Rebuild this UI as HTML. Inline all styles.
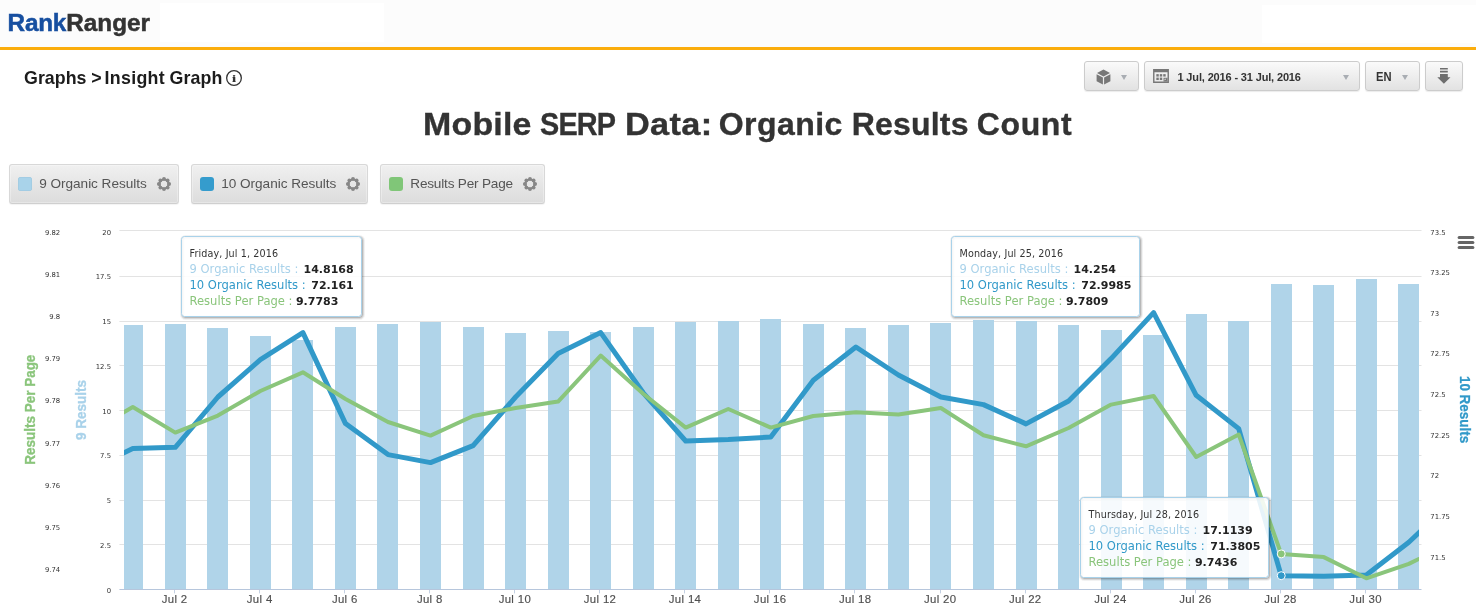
<!DOCTYPE html>
<html lang="en">
<head>
<meta charset="utf-8">
<title>Rank Ranger - Insight Graph</title>
<style>
html,body{margin:0;padding:0;}
body{width:1476px;height:611px;overflow:hidden;background:#fff;position:relative;font-family:"Liberation Sans",sans-serif;color:#333;}
.hdr{position:absolute;left:0;top:0;width:1476px;height:47px;background:#fcfcfc;border-bottom:3px solid #fbad0c;}
.hdr .w1{position:absolute;left:160px;top:3px;width:224px;height:39px;background:#fff;}
.hdr .w2{position:absolute;left:1262px;top:5px;width:214px;height:38px;background:#fff;}
.logo{position:absolute;left:7.6px;top:9.3px;font-size:24.3px;-webkit-text-stroke:.5px currentColor;line-height:28px;font-weight:bold;color:#333;letter-spacing:0;white-space:nowrap;}
.logo b{color:#174fa0;letter-spacing:-.25px;margin-right:.3px;}
.crumb{position:absolute;left:24px;top:66.6px;font-size:17.8px;letter-spacing:.05px;line-height:22px;font-weight:bold;color:#1c1c1c;white-space:nowrap;}
.info{position:absolute;left:224.9px;top:68.9px;}
.tb{position:absolute;top:61px;height:28px;border:1px solid #ccc;border-radius:3px;background:linear-gradient(#fafafa,#e2e2e2);box-shadow:0 1px 1px rgba(0,0,0,.08);font-weight:bold;font-size:11px;color:#333;white-space:nowrap;}
.tb span{position:absolute;top:7.8px;line-height:15px;}
.tb svg{position:absolute;}
.caret{position:absolute;top:12.6px;width:0;height:0;border-left:3.6px solid transparent;border-right:3.6px solid transparent;border-top:5.6px solid #a9adb3;}
h1{position:absolute;left:0;top:104px;width:1476px;height:40px;margin:0;font-size:32px;line-height:40px;font-weight:bold;color:#333;white-space:nowrap;}
h1 span{position:absolute;top:0;transform-origin:0 50%;-webkit-text-stroke:.35px #333;}
.lg{position:absolute;top:164px;height:38px;border:1px solid #d8d8d8;border-bottom-color:#cfcfcf;border-radius:3px;background:linear-gradient(#f0f0f0,#dcdcdc);box-shadow:0 1px 1px rgba(0,0,0,.05),inset 0 0 0 1px rgba(255,255,255,.3);font-size:13.6px;letter-spacing:-.04px;color:#555;white-space:nowrap;}
.lg i{position:absolute;left:8.1px;top:12.2px;width:13.6px;height:13.6px;border-radius:3px;}
.lg span{position:absolute;left:29.3px;top:9.7px;line-height:18px;}
.lg .gear{position:absolute;right:6px;top:10.9px;}
.chart{position:absolute;left:0;top:210px;}
</style>
</head>
<body>
<div class="hdr"><div class="w1"></div><div class="w2"></div><div class="logo"><b>Rank</b>Ranger</div></div>
<div class="crumb">Graphs <span style="margin-left:-.4px;letter-spacing:-.4px">&gt;</span> <span style="margin-left:-1.55px;letter-spacing:.3px">Insight</span> <span style="margin-left:-.4px;letter-spacing:.12px">Graph</span></div>
<svg class="info" width="18" height="18" viewBox="0 0 18 18"><circle cx="9" cy="9" r="7.35" fill="none" stroke="#333" stroke-width="1.3"/><text transform="translate(9.1 13) scale(1.3 1)" text-anchor="middle" font-family="Liberation Serif, serif" font-weight="bold" font-size="11.2" fill="#333" stroke="#333" stroke-width=".2">i</text></svg>

<div class="tb" style="left:1084px;width:53px;">
  <svg style="left:11px;top:7px" width="15" height="16" viewBox="0 0 15 16"><path d="M7.5 0.5 L14 4 L7.5 7.5 L1 4 Z M0.6 5.2 L6.9 8.6 V15.6 L0.6 12.2 Z M14.4 5.2 V12.2 L8.1 15.6 V8.6 Z" fill="#777"/></svg>
  <div class="caret" style="left:36px"></div>
</div>
<div class="tb" style="left:1144px;width:213.5px;">
  <svg style="left:8px;top:7px" width="16" height="14" viewBox="0 0 17 15"><path d="M0 0 H17 V15 H0 Z M1.5 3.5 V13.5 H15.5 V3.5 Z" fill="#777" fill-rule="evenodd"/><g fill="#777"><rect x="3.5" y="5.5" width="2.6" height="2.6"/><rect x="7.2" y="5.5" width="2.6" height="2.6"/><rect x="10.9" y="5.5" width="2.6" height="2.6"/><rect x="3.5" y="9.2" width="2.6" height="2.6"/><rect x="7.2" y="9.2" width="2.6" height="2.6"/><path d="M11.2 9.4H15.5V13.5H11.2Z"/><path d="M12.3 12.4V10.5H14.3Z" fill="#e8e8e8"/></g></svg>
  <span style="left:32.5px;letter-spacing:-.15px">1 Jul, 2016 - 31 Jul, 2016</span>
  <div class="caret" style="left:198px"></div>
</div>
<div class="tb" style="left:1365px;width:53px;">
  <span style="left:10px;top:7.1px;font-size:13px;transform:scaleX(.86);transform-origin:0 50%">EN</span>
  <div class="caret" style="left:36px"></div>
</div>
<div class="tb" style="left:1425px;width:36px;">
  <svg style="left:11px;top:6px" width="14" height="17" viewBox="0 0 14 17"><path d="M3 0.1 H10.8 V1.6 H3 Z M3 2.8 H10.8 V4.6 H3 Z M3 5.9 H10.8 V9.3 H13.5 L6.9 15.8 L0.3 9.3 H3 Z" fill="#6e6e6e"/></svg>
</div>

<h1><span style="left:423.0px;letter-spacing:0.2px;transform:scaleX(1.06)">Mobile</span> <span style="left:540.2px;letter-spacing:-0.9px;transform:scaleX(0.9)">SERP</span> <span style="left:625px;letter-spacing:0.3px;transform:scaleX(1.072)">Data:</span> <span style="left:718.8px;letter-spacing:0.42px;transform:scaleX(1.0)">Organic</span> <span style="left:851.8px;letter-spacing:0.18px;transform:scaleX(1.0)">Results</span> <span style="left:976.8px;letter-spacing:0.6px;transform:scaleX(1.0)">Count</span></h1>

<div class="lg" style="left:9px;width:168px;"><i style="background:#a9d3ea;box-shadow:0 0 0 .5px #9cc6dd inset"></i><span>9 Organic Results</span><svg class="gear" width="16" height="16" viewBox="0 0 16 16"><g fill="#878787"><path fill-rule="evenodd" d="M8 2.6a5.4 5.4 0 1 0 0 10.8a5.4 5.4 0 1 0 0-10.8zM8 4.6a3.4 3.4 0 1 1 0 6.8a3.4 3.4 0 1 1 0-6.8z"/><circle cx="8.00" cy="2.90" r="1.95"/><circle cx="11.61" cy="4.39" r="1.95"/><circle cx="13.10" cy="8.00" r="1.95"/><circle cx="11.61" cy="11.61" r="1.95"/><circle cx="8.00" cy="13.10" r="1.95"/><circle cx="4.39" cy="11.61" r="1.95"/><circle cx="2.90" cy="8.00" r="1.95"/><circle cx="4.39" cy="4.39" r="1.95"/></g></svg></div>
<div class="lg" style="left:191px;width:175px;"><i style="background:#359ccd"></i><span>10 Organic Results</span><svg class="gear" width="16" height="16" viewBox="0 0 16 16"><g fill="#878787"><path fill-rule="evenodd" d="M8 2.6a5.4 5.4 0 1 0 0 10.8a5.4 5.4 0 1 0 0-10.8zM8 4.6a3.4 3.4 0 1 1 0 6.8a3.4 3.4 0 1 1 0-6.8z"/><circle cx="8.00" cy="2.90" r="1.95"/><circle cx="11.61" cy="4.39" r="1.95"/><circle cx="13.10" cy="8.00" r="1.95"/><circle cx="11.61" cy="11.61" r="1.95"/><circle cx="8.00" cy="13.10" r="1.95"/><circle cx="4.39" cy="11.61" r="1.95"/><circle cx="2.90" cy="8.00" r="1.95"/><circle cx="4.39" cy="4.39" r="1.95"/></g></svg></div>
<div class="lg" style="left:380px;width:163px;"><i style="background:#80c678"></i><span style="letter-spacing:-.2px">Results Per Page</span><svg class="gear" width="16" height="16" viewBox="0 0 16 16"><g fill="#878787"><path fill-rule="evenodd" d="M8 2.6a5.4 5.4 0 1 0 0 10.8a5.4 5.4 0 1 0 0-10.8zM8 4.6a3.4 3.4 0 1 1 0 6.8a3.4 3.4 0 1 1 0-6.8z"/><circle cx="8.00" cy="2.90" r="1.95"/><circle cx="11.61" cy="4.39" r="1.95"/><circle cx="13.10" cy="8.00" r="1.95"/><circle cx="11.61" cy="11.61" r="1.95"/><circle cx="8.00" cy="13.10" r="1.95"/><circle cx="4.39" cy="11.61" r="1.95"/><circle cx="2.90" cy="8.00" r="1.95"/><circle cx="4.39" cy="4.39" r="1.95"/></g></svg></div>

<svg class="chart" width="1476" height="401" viewBox="0 210 1476 401">
<defs><clipPath id="cp"><rect x="124" y="225" width="1295" height="364"/></clipPath></defs>
<path d="M119.4 230.5 H1421.5" stroke="#e3e3e3" stroke-width="1" fill="none"/>
<path d="M119.4 276.5 H1421.5" stroke="#e3e3e3" stroke-width="1" fill="none"/>
<path d="M119.4 321.5 H1421.5" stroke="#e3e3e3" stroke-width="1" fill="none"/>
<path d="M119.4 365.5 H1421.5" stroke="#e3e3e3" stroke-width="1" fill="none"/>
<path d="M119.4 410.5 H1421.5" stroke="#e3e3e3" stroke-width="1" fill="none"/>
<path d="M119.4 455.5 H1421.5" stroke="#e3e3e3" stroke-width="1" fill="none"/>
<path d="M119.4 500.5 H1421.5" stroke="#e3e3e3" stroke-width="1" fill="none"/>
<path d="M119.4 544.5 H1421.5" stroke="#e3e3e3" stroke-width="1" fill="none"/>
<g clip-path="url(#cp)">
<rect x="122" y="325" width="21" height="264" fill="#b0d4e9"/>
<rect x="165" y="324" width="21" height="265" fill="#b0d4e9"/>
<rect x="207" y="328" width="21" height="261" fill="#b0d4e9"/>
<rect x="250" y="336" width="21" height="253" fill="#b0d4e9"/>
<rect x="292" y="340" width="21" height="249" fill="#b0d4e9"/>
<rect x="335" y="327" width="21" height="262" fill="#b0d4e9"/>
<rect x="377" y="324" width="21" height="265" fill="#b0d4e9"/>
<rect x="420" y="322" width="21" height="267" fill="#b0d4e9"/>
<rect x="463" y="327" width="21" height="262" fill="#b0d4e9"/>
<rect x="505" y="333" width="21" height="256" fill="#b0d4e9"/>
<rect x="548" y="331" width="21" height="258" fill="#b0d4e9"/>
<rect x="590" y="332" width="21" height="257" fill="#b0d4e9"/>
<rect x="633" y="327" width="21" height="262" fill="#b0d4e9"/>
<rect x="675" y="322" width="21" height="267" fill="#b0d4e9"/>
<rect x="718" y="321" width="21" height="268" fill="#b0d4e9"/>
<rect x="760" y="319" width="21" height="270" fill="#b0d4e9"/>
<rect x="803" y="324" width="21" height="265" fill="#b0d4e9"/>
<rect x="845" y="328" width="21" height="261" fill="#b0d4e9"/>
<rect x="888" y="325" width="21" height="264" fill="#b0d4e9"/>
<rect x="930" y="323" width="21" height="266" fill="#b0d4e9"/>
<rect x="973" y="320" width="21" height="269" fill="#b0d4e9"/>
<rect x="1016" y="321" width="21" height="268" fill="#b0d4e9"/>
<rect x="1058" y="325" width="21" height="264" fill="#b0d4e9"/>
<rect x="1101" y="330" width="21" height="259" fill="#b0d4e9"/>
<rect x="1143" y="335" width="21" height="254" fill="#b0d4e9"/>
<rect x="1186" y="314" width="21" height="275" fill="#b0d4e9"/>
<rect x="1228" y="321" width="21" height="268" fill="#b0d4e9"/>
<rect x="1271" y="284" width="21" height="305" fill="#b0d4e9"/>
<rect x="1313" y="285" width="21" height="304" fill="#b0d4e9"/>
<rect x="1356" y="279" width="21" height="310" fill="#b0d4e9"/>
<rect x="1398" y="284" width="21" height="305" fill="#b0d4e9"/>
</g>
<path d="M119.4 589.5 H1421.5" stroke="#b6c6dc" stroke-width="1" fill="none"/>
<path d="M174.5 590 V593.4" stroke="#c3d0e2" stroke-width="1" fill="none"/>
<path d="M259.5 590 V593.4" stroke="#c3d0e2" stroke-width="1" fill="none"/>
<path d="M344.5 590 V593.4" stroke="#c3d0e2" stroke-width="1" fill="none"/>
<path d="M429.5 590 V593.4" stroke="#c3d0e2" stroke-width="1" fill="none"/>
<path d="M514.5 590 V593.4" stroke="#c3d0e2" stroke-width="1" fill="none"/>
<path d="M599.5 590 V593.4" stroke="#c3d0e2" stroke-width="1" fill="none"/>
<path d="M684.5 590 V593.4" stroke="#c3d0e2" stroke-width="1" fill="none"/>
<path d="M769.5 590 V593.4" stroke="#c3d0e2" stroke-width="1" fill="none"/>
<path d="M854.5 590 V593.4" stroke="#c3d0e2" stroke-width="1" fill="none"/>
<path d="M940.5 590 V593.4" stroke="#c3d0e2" stroke-width="1" fill="none"/>
<path d="M1025.5 590 V593.4" stroke="#c3d0e2" stroke-width="1" fill="none"/>
<path d="M1110.5 590 V593.4" stroke="#c3d0e2" stroke-width="1" fill="none"/>
<path d="M1195.5 590 V593.4" stroke="#c3d0e2" stroke-width="1" fill="none"/>
<path d="M1280.5 590 V593.4" stroke="#c3d0e2" stroke-width="1" fill="none"/>
<path d="M1365.5 590 V593.4" stroke="#c3d0e2" stroke-width="1" fill="none"/>
<g clip-path="url(#cp)" fill="none" stroke-linejoin="round" stroke-linecap="round">
<path d="M90.2 469.0 L132.8 448.6 L175.3 447.3 L217.9 397.0 L260.4 359.6 L302.9 332.6 L345.5 423.6 L388.0 454.6 L430.5 462.6 L473.1 445.6 L515.6 397.0 L558.1 353.6 L600.7 332.6 L643.2 392.8 L685.7 441.0 L728.3 439.6 L770.8 437.0 L813.3 380.3 L855.9 347.0 L898.4 375.0 L940.9 397.0 L983.5 404.6 L1026.0 423.9 L1068.6 401.0 L1111.1 358.6 L1153.6 312.6 L1196.2 395.3 L1238.7 428.6 L1281.2 575.7 L1323.8 576.3 L1366.3 575.1 L1408.8 542.3 L1451.4 502.0" stroke="#3199c9" stroke-width="5"/>
<path d="M90.2 432.0 L132.8 407.0 L175.3 432.6 L217.9 415.6 L260.4 391.0 L302.9 372.3 L345.5 399.0 L388.0 422.0 L430.5 435.6 L473.1 416.0 L515.6 408.0 L558.1 401.6 L600.7 355.6 L643.2 393.8 L685.7 427.6 L728.3 409.0 L770.8 427.6 L813.3 416.0 L855.9 412.3 L898.4 414.6 L940.9 408.0 L983.5 435.3 L1026.0 446.3 L1068.6 428.0 L1111.1 404.6 L1153.6 396.0 L1196.2 457.0 L1238.7 434.5 L1281.2 553.9 L1323.8 557.1 L1366.3 578.3 L1408.8 563.9 L1451.4 543.0" stroke="#8ac57b" stroke-width="4"/>
</g>
<circle cx="1281.23" cy="575.6999999999999" r="4" fill="#3199c9" stroke="#fff" stroke-width="1"/>
<circle cx="1281.23" cy="553.9" r="4" fill="#8ac57b" stroke="#fff" stroke-width="1"/>
<text x="60.2" y="235.0" text-anchor="end" font-family="DejaVu Sans, Liberation Sans, sans-serif" font-size="6.85" fill="#333">9.82</text>
<text x="60.2" y="277.0" text-anchor="end" font-family="DejaVu Sans, Liberation Sans, sans-serif" font-size="6.85" fill="#333">9.81</text>
<text x="60.2" y="319.0" text-anchor="end" font-family="DejaVu Sans, Liberation Sans, sans-serif" font-size="6.85" fill="#333">9.8</text>
<text x="60.2" y="360.9" text-anchor="end" font-family="DejaVu Sans, Liberation Sans, sans-serif" font-size="6.85" fill="#333">9.79</text>
<text x="60.2" y="403.2" text-anchor="end" font-family="DejaVu Sans, Liberation Sans, sans-serif" font-size="6.85" fill="#333">9.78</text>
<text x="60.2" y="446.1" text-anchor="end" font-family="DejaVu Sans, Liberation Sans, sans-serif" font-size="6.85" fill="#333">9.77</text>
<text x="60.2" y="488.2" text-anchor="end" font-family="DejaVu Sans, Liberation Sans, sans-serif" font-size="6.85" fill="#333">9.76</text>
<text x="60.2" y="529.8" text-anchor="end" font-family="DejaVu Sans, Liberation Sans, sans-serif" font-size="6.85" fill="#333">9.75</text>
<text x="60.2" y="571.8" text-anchor="end" font-family="DejaVu Sans, Liberation Sans, sans-serif" font-size="6.85" fill="#333">9.74</text>
<text x="111" y="235.1" text-anchor="end" font-family="DejaVu Sans, Liberation Sans, sans-serif" font-size="6.85" fill="#333">20</text>
<text x="111" y="279.2" text-anchor="end" font-family="DejaVu Sans, Liberation Sans, sans-serif" font-size="6.85" fill="#333">17.5</text>
<text x="111" y="323.9" text-anchor="end" font-family="DejaVu Sans, Liberation Sans, sans-serif" font-size="6.85" fill="#333">15</text>
<text x="111" y="368.8" text-anchor="end" font-family="DejaVu Sans, Liberation Sans, sans-serif" font-size="6.85" fill="#333">12.5</text>
<text x="111" y="413.7" text-anchor="end" font-family="DejaVu Sans, Liberation Sans, sans-serif" font-size="6.85" fill="#333">10</text>
<text x="111" y="457.9" text-anchor="end" font-family="DejaVu Sans, Liberation Sans, sans-serif" font-size="6.85" fill="#333">7.5</text>
<text x="111" y="502.8" text-anchor="end" font-family="DejaVu Sans, Liberation Sans, sans-serif" font-size="6.85" fill="#333">5</text>
<text x="111" y="547.8" text-anchor="end" font-family="DejaVu Sans, Liberation Sans, sans-serif" font-size="6.85" fill="#333">2.5</text>
<text x="111" y="592.7" text-anchor="end" font-family="DejaVu Sans, Liberation Sans, sans-serif" font-size="6.85" fill="#333">0</text>
<text x="1430.3" y="234.9" text-anchor="start" font-family="DejaVu Sans, Liberation Sans, sans-serif" font-size="6.85" fill="#333">73.5</text>
<text x="1430.3" y="275.0" text-anchor="start" font-family="DejaVu Sans, Liberation Sans, sans-serif" font-size="6.85" fill="#333">73.25</text>
<text x="1430.3" y="315.8" text-anchor="start" font-family="DejaVu Sans, Liberation Sans, sans-serif" font-size="6.85" fill="#333">73</text>
<text x="1430.3" y="356.2" text-anchor="start" font-family="DejaVu Sans, Liberation Sans, sans-serif" font-size="6.85" fill="#333">72.75</text>
<text x="1430.3" y="396.8" text-anchor="start" font-family="DejaVu Sans, Liberation Sans, sans-serif" font-size="6.85" fill="#333">72.5</text>
<text x="1430.3" y="437.8" text-anchor="start" font-family="DejaVu Sans, Liberation Sans, sans-serif" font-size="6.85" fill="#333">72.25</text>
<text x="1430.3" y="477.8" text-anchor="start" font-family="DejaVu Sans, Liberation Sans, sans-serif" font-size="6.85" fill="#333">72</text>
<text x="1430.3" y="519.2" text-anchor="start" font-family="DejaVu Sans, Liberation Sans, sans-serif" font-size="6.85" fill="#333">71.75</text>
<text x="1430.3" y="560.3" text-anchor="start" font-family="DejaVu Sans, Liberation Sans, sans-serif" font-size="6.85" fill="#333">71.5</text>
<text x="174.6" y="603.2" text-anchor="middle" font-family="Liberation Sans, sans-serif" font-size="11.4" letter-spacing=".35" fill="#505050" stroke="#505050" stroke-width=".15">Jul 2</text>
<text x="259.7" y="603.2" text-anchor="middle" font-family="Liberation Sans, sans-serif" font-size="11.4" letter-spacing=".35" fill="#505050" stroke="#505050" stroke-width=".15">Jul 4</text>
<text x="344.8" y="603.2" text-anchor="middle" font-family="Liberation Sans, sans-serif" font-size="11.4" letter-spacing=".35" fill="#505050" stroke="#505050" stroke-width=".15">Jul 6</text>
<text x="429.8" y="603.2" text-anchor="middle" font-family="Liberation Sans, sans-serif" font-size="11.4" letter-spacing=".35" fill="#505050" stroke="#505050" stroke-width=".15">Jul 8</text>
<text x="514.9" y="603.2" text-anchor="middle" font-family="Liberation Sans, sans-serif" font-size="11.4" letter-spacing=".35" fill="#505050" stroke="#505050" stroke-width=".15">Jul 10</text>
<text x="600.0" y="603.2" text-anchor="middle" font-family="Liberation Sans, sans-serif" font-size="11.4" letter-spacing=".35" fill="#505050" stroke="#505050" stroke-width=".15">Jul 12</text>
<text x="685.0" y="603.2" text-anchor="middle" font-family="Liberation Sans, sans-serif" font-size="11.4" letter-spacing=".35" fill="#505050" stroke="#505050" stroke-width=".15">Jul 14</text>
<text x="770.1" y="603.2" text-anchor="middle" font-family="Liberation Sans, sans-serif" font-size="11.4" letter-spacing=".35" fill="#505050" stroke="#505050" stroke-width=".15">Jul 16</text>
<text x="855.2" y="603.2" text-anchor="middle" font-family="Liberation Sans, sans-serif" font-size="11.4" letter-spacing=".35" fill="#505050" stroke="#505050" stroke-width=".15">Jul 18</text>
<text x="940.2" y="603.2" text-anchor="middle" font-family="Liberation Sans, sans-serif" font-size="11.4" letter-spacing=".35" fill="#505050" stroke="#505050" stroke-width=".15">Jul 20</text>
<text x="1025.3" y="603.2" text-anchor="middle" font-family="Liberation Sans, sans-serif" font-size="11.4" letter-spacing=".35" fill="#505050" stroke="#505050" stroke-width=".15">Jul 22</text>
<text x="1110.4" y="603.2" text-anchor="middle" font-family="Liberation Sans, sans-serif" font-size="11.4" letter-spacing=".35" fill="#505050" stroke="#505050" stroke-width=".15">Jul 24</text>
<text x="1195.5" y="603.2" text-anchor="middle" font-family="Liberation Sans, sans-serif" font-size="11.4" letter-spacing=".35" fill="#505050" stroke="#505050" stroke-width=".15">Jul 26</text>
<text x="1280.5" y="603.2" text-anchor="middle" font-family="Liberation Sans, sans-serif" font-size="11.4" letter-spacing=".35" fill="#505050" stroke="#505050" stroke-width=".15">Jul 28</text>
<text x="1365.6" y="603.2" text-anchor="middle" font-family="Liberation Sans, sans-serif" font-size="11.4" letter-spacing=".35" fill="#505050" stroke="#505050" stroke-width=".15">Jul 30</text>
<text transform="translate(35 409.7) rotate(-90) scale(.9 1)" text-anchor="middle" font-family="Liberation Sans, sans-serif" font-weight="bold" font-size="15" fill="#8ac57b" stroke="#8ac57b" stroke-width=".3">Results Per Page</text>
<text transform="translate(86 410) rotate(-90) scale(.9 1)" text-anchor="middle" font-family="Liberation Sans, sans-serif" font-weight="bold" font-size="15" fill="#a9d2ea" stroke="#a9d2ea" stroke-width=".3">9 Results</text>
<text transform="translate(1459.6 409.6) rotate(90) scale(.87 1)" text-anchor="middle" font-family="Liberation Sans, sans-serif" font-weight="bold" font-size="15.5" fill="#3199c9" stroke="#3199c9" stroke-width=".3">10 Results</text>
<rect x="1457.6" y="235.90" width="16.8" height="3" rx="1.5" fill="#666"/>
<rect x="1457.6" y="240.95" width="16.8" height="3" rx="1.5" fill="#666"/>
<rect x="1457.6" y="246.00" width="16.8" height="3" rx="1.5" fill="#666"/>
<rect x="182.5" y="237.5" width="180" height="80" rx="3" fill="none" stroke="#000" stroke-opacity="0.05" stroke-width="5"/>
<rect x="182.5" y="237.5" width="180" height="80" rx="3" fill="none" stroke="#000" stroke-opacity="0.1" stroke-width="3"/>
<rect x="182.5" y="237.5" width="180" height="80" rx="3" fill="none" stroke="#000" stroke-opacity="0.15" stroke-width="1"/>
<rect x="181.5" y="236.5" width="180" height="80" rx="3" fill="#fff" fill-opacity="0.88" stroke="#a9d2ea" stroke-width="1"/>
<text x="189.5" y="257.0" font-family="DejaVu Sans, sans-serif" font-size="9.6" letter-spacing=".12" fill="#333">Friday, Jul 1, 2016</text>
<text x="189.5" y="272.6" font-family="DejaVu Sans, sans-serif" font-size="11.55" fill="#a9d2ea">9 Organic Results : <tspan dx="1.5" font-weight="bold" font-size="11" fill="#222">14.8168</tspan></text>
<text x="189.5" y="288.7" font-family="DejaVu Sans, sans-serif" font-size="11.55" fill="#3199c9">10 Organic Results : <tspan dx="1.9" font-weight="bold" font-size="11" fill="#222">72.161</tspan></text>
<text x="189.5" y="304.9" font-family="DejaVu Sans, sans-serif" font-size="11.55" fill="#8ac57b">Results Per Page : <tspan dx="-0.2" font-weight="bold" font-size="11" fill="#222">9.7783</tspan></text>
<rect x="952.5" y="237.5" width="188" height="80" rx="3" fill="none" stroke="#000" stroke-opacity="0.05" stroke-width="5"/>
<rect x="952.5" y="237.5" width="188" height="80" rx="3" fill="none" stroke="#000" stroke-opacity="0.1" stroke-width="3"/>
<rect x="952.5" y="237.5" width="188" height="80" rx="3" fill="none" stroke="#000" stroke-opacity="0.15" stroke-width="1"/>
<rect x="951.5" y="236.5" width="188" height="80" rx="3" fill="#fff" fill-opacity="0.88" stroke="#a9d2ea" stroke-width="1"/>
<text x="959.5" y="257.0" font-family="DejaVu Sans, sans-serif" font-size="9.6" letter-spacing=".12" fill="#333">Monday, Jul 25, 2016</text>
<text x="959.5" y="272.6" font-family="DejaVu Sans, sans-serif" font-size="11.55" fill="#a9d2ea">9 Organic Results : <tspan dx="1.5" font-weight="bold" font-size="11" fill="#222">14.254</tspan></text>
<text x="959.5" y="288.7" font-family="DejaVu Sans, sans-serif" font-size="11.55" fill="#3199c9">10 Organic Results : <tspan dx="1.9" font-weight="bold" font-size="11" fill="#222">72.9985</tspan></text>
<text x="959.5" y="304.9" font-family="DejaVu Sans, sans-serif" font-size="11.55" fill="#8ac57b">Results Per Page : <tspan dx="-0.2" font-weight="bold" font-size="11" fill="#222">9.7809</tspan></text>
<rect x="1081.5" y="498.5" width="188" height="80" rx="3" fill="none" stroke="#000" stroke-opacity="0.05" stroke-width="5"/>
<rect x="1081.5" y="498.5" width="188" height="80" rx="3" fill="none" stroke="#000" stroke-opacity="0.1" stroke-width="3"/>
<rect x="1081.5" y="498.5" width="188" height="80" rx="3" fill="none" stroke="#000" stroke-opacity="0.15" stroke-width="1"/>
<rect x="1080.5" y="497.5" width="188" height="80" rx="3" fill="#fff" fill-opacity="0.88" stroke="#a9d2ea" stroke-width="1"/>
<text x="1088.5" y="518.0" font-family="DejaVu Sans, sans-serif" font-size="9.6" letter-spacing=".12" fill="#333">Thursday, Jul 28, 2016</text>
<text x="1088.5" y="533.6" font-family="DejaVu Sans, sans-serif" font-size="11.55" fill="#a9d2ea">9 Organic Results : <tspan dx="1.5" font-weight="bold" font-size="11" fill="#222">17.1139</tspan></text>
<text x="1088.5" y="549.7" font-family="DejaVu Sans, sans-serif" font-size="11.55" fill="#3199c9">10 Organic Results : <tspan dx="1.9" font-weight="bold" font-size="11" fill="#222">71.3805</tspan></text>
<text x="1088.5" y="565.9" font-family="DejaVu Sans, sans-serif" font-size="11.55" fill="#8ac57b">Results Per Page : <tspan dx="-0.2" font-weight="bold" font-size="11" fill="#222">9.7436</tspan></text>
</svg>
</body>
</html>
